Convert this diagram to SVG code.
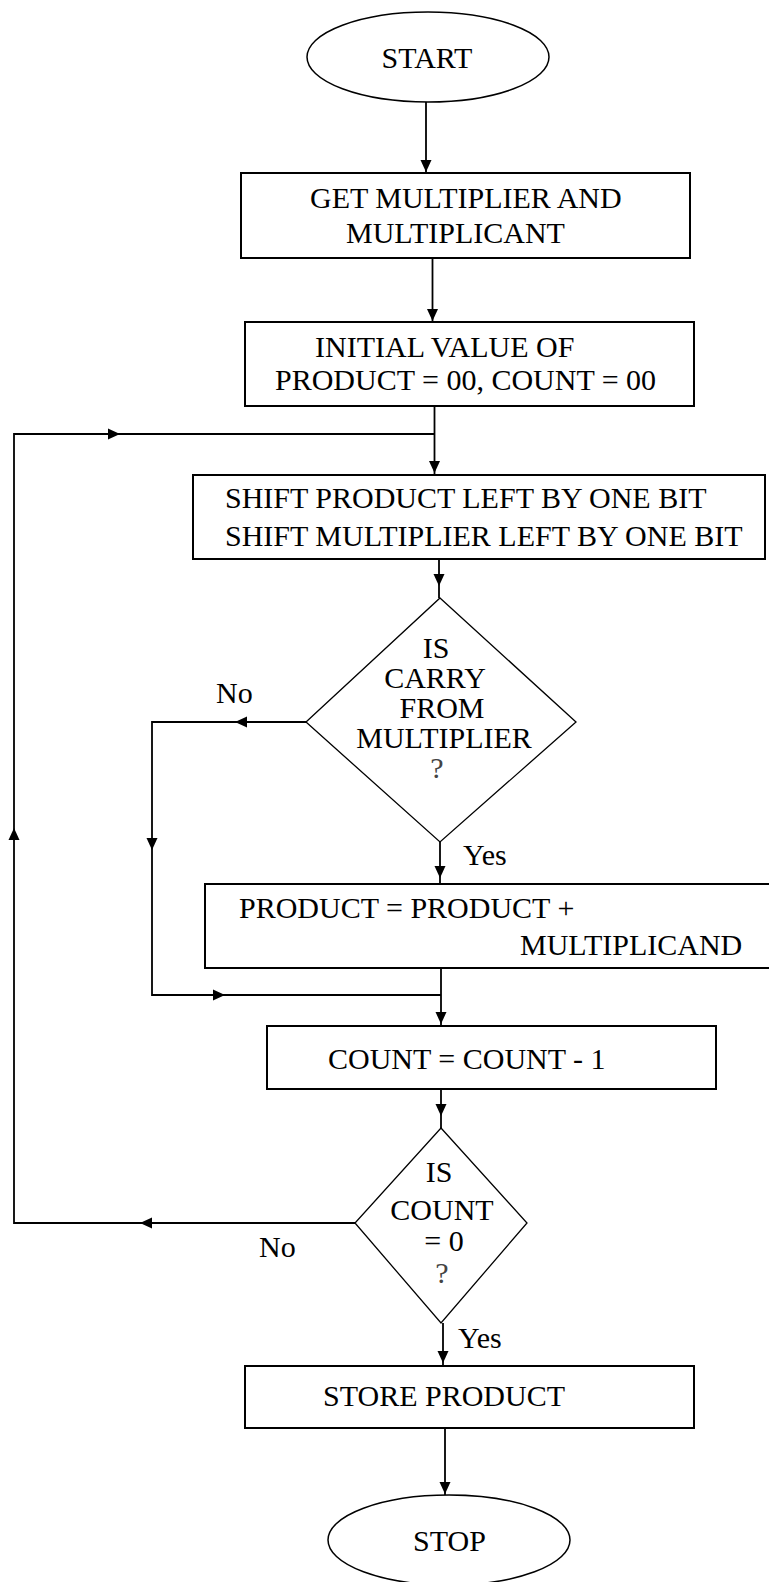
<svg xmlns="http://www.w3.org/2000/svg" xmlns:xlink="http://www.w3.org/1999/xlink" width="769" height="1582" viewBox="0 0 769 1582">
<style>
text{font-family:"Liberation Serif","Times New Roman",serif;font-size:30px;fill:#000}
.m{text-anchor:middle}
.q{fill:#444}
.box{fill:#fff;stroke:#000;stroke-width:2}
.dia{fill:#fff;stroke:#000;stroke-width:1.3}
.ell{fill:#fff;stroke:#000;stroke-width:1.5}
.ln{fill:none;stroke:#000;stroke-width:1.8}
.ah{fill:#000}
</style>
<defs>
<path id="ah" class="ah" d="M0,0 L-12,-5.5 L-12,5.5 Z"/>
</defs>
<g id="connectors">
<path class="ln" d="M426,102 V172"/>
<use href="#ah" transform="translate(426,172) rotate(90)"/>
<path class="ln" d="M432.5,258 V321"/>
<use href="#ah" transform="translate(432.5,321) rotate(90)"/>
<path class="ln" d="M434.5,406 V474"/>
<use href="#ah" transform="translate(434.5,473) rotate(90)"/>
<path class="ln" d="M355.5,1223 H14 V434 H434.5"/>
<use href="#ah" transform="translate(140,1223) rotate(180)"/>
<use href="#ah" transform="translate(14,828) rotate(-90)"/>
<use href="#ah" transform="translate(120,434)"/>
<path class="ln" d="M439,559 V598"/>
<use href="#ah" transform="translate(439,586) rotate(90)"/>
<path class="ln" d="M306,722 H152 V995 H441"/>
<use href="#ah" transform="translate(235,722) rotate(180)"/>
<use href="#ah" transform="translate(152,850) rotate(90)"/>
<use href="#ah" transform="translate(225,995)"/>
<path class="ln" d="M440,842 V884"/>
<use href="#ah" transform="translate(440,878) rotate(90)"/>
<path class="ln" d="M441,968 V1026"/>
<use href="#ah" transform="translate(441,1024) rotate(90)"/>
<path class="ln" d="M441,1089 V1128"/>
<use href="#ah" transform="translate(441,1116) rotate(90)"/>
<path class="ln" d="M443,1323 V1366"/>
<use href="#ah" transform="translate(443,1363) rotate(90)"/>
<path class="ln" d="M445,1428 V1495"/>
<use href="#ah" transform="translate(445,1494) rotate(90)"/>
<text x="216" y="703">No</text>
<text x="463" y="865">Yes</text>
<text x="259" y="1257">No</text>
<text x="458" y="1348">Yes</text>
</g>
<g id="start">
<ellipse class="ell" cx="428" cy="57" rx="121" ry="45"/>
<text class="m" x="427" y="68">START</text>
</g>
<g id="get">
<rect class="box" x="241" y="173" width="449" height="85"/>
<text x="310" y="208">GET MULTIPLIER AND</text>
<text x="346" y="243">MULTIPLICANT</text>
</g>
<g id="init">
<rect class="box" x="245" y="322" width="449" height="84"/>
<text x="315" y="357">INITIAL VALUE OF</text>
<text x="275" y="390">PRODUCT = 00, COUNT = 00</text>
</g>
<g id="shift">
<rect class="box" x="193" y="475" width="572" height="84"/>
<text x="225" y="508">SHIFT PRODUCT LEFT BY ONE BIT</text>
<text x="225" y="546">SHIFT MULTIPLIER LEFT BY ONE BIT</text>
</g>
<g id="carry">
<polygon class="dia" points="440,598 576,722 440,842 306,722"/>
<text class="m" x="436" y="658">IS</text>
<text class="m" x="435" y="688">CARRY</text>
<text class="m" x="442" y="718">FROM</text>
<text class="m" x="444" y="748">MULTIPLIER</text>
<text class="m q" x="437" y="778">?</text>
</g>
<g id="add">
<rect class="box" x="205" y="884" width="575" height="84"/>
<text x="239" y="918">PRODUCT = PRODUCT +</text>
<text x="520" y="955">MULTIPLICAND</text>
</g>
<g id="dec">
<rect class="box" x="267" y="1026" width="449" height="63"/>
<text x="328" y="1069">COUNT = COUNT - 1</text>
</g>
<g id="zero">
<polygon class="dia" points="441,1128 527,1223 441,1323 355,1223"/>
<text class="m" x="439" y="1182">IS</text>
<text class="m" x="442" y="1220">COUNT</text>
<text class="m" x="444" y="1251">= 0</text>
<text class="m q" x="442" y="1283">?</text>
</g>
<g id="store">
<rect class="box" x="245" y="1366" width="449" height="62"/>
<text x="323" y="1406">STORE PRODUCT</text>
</g>
<g id="stop">
<ellipse class="ell" cx="449" cy="1540" rx="121" ry="45"/>
<text x="413" y="1551">STOP</text>
</g>
</svg>
